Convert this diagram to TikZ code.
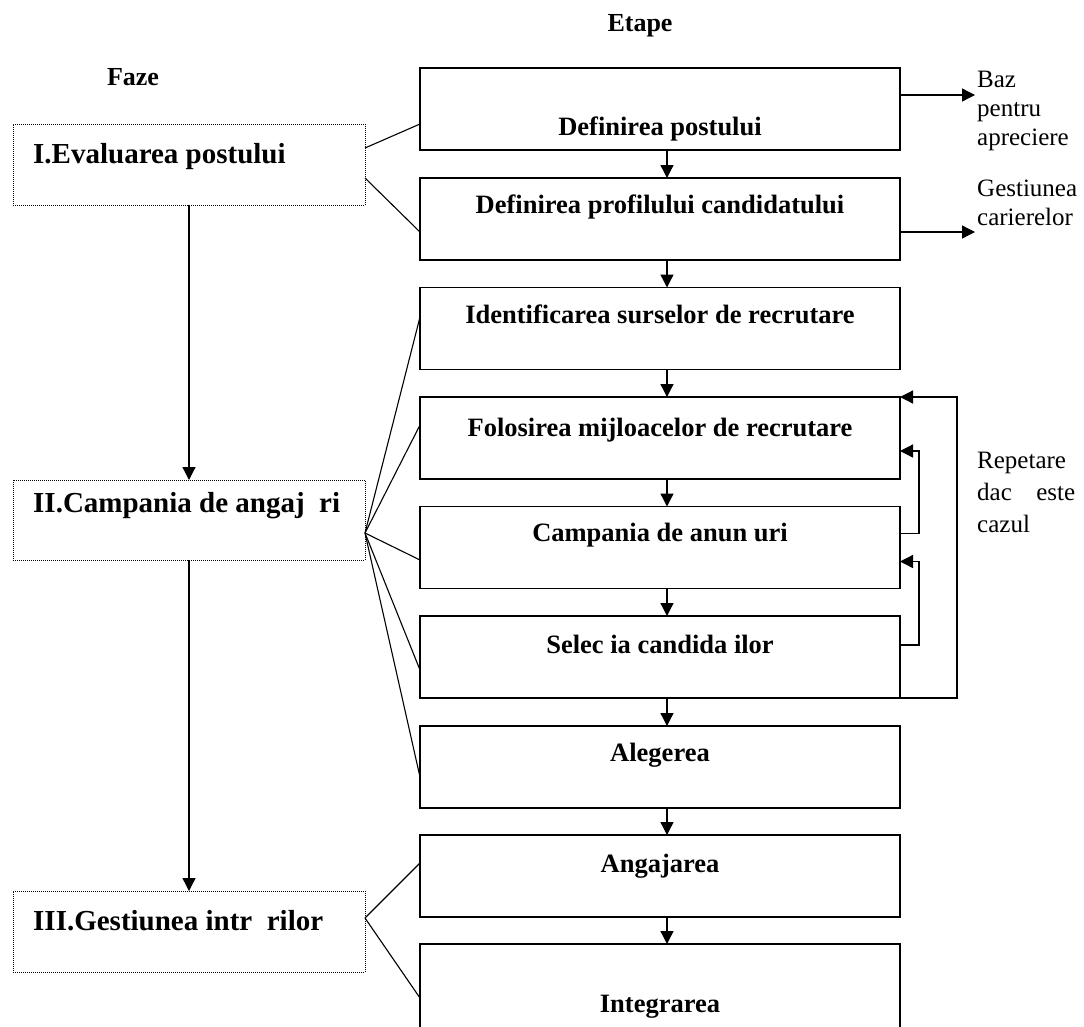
\documentclass[tikz,border=0pt]{standalone}
\usepackage{fontspec}
\setmainfont{Liberation Serif}
\usetikzlibrary{arrows.meta,calc}
\begin{document}
\begin{tikzpicture}[x=1pt,y=-1pt,
 stepbox/.style={draw,line width=1.6pt,minimum width=480pt,minimum height=82pt,inner sep=0pt,outer sep=0pt},
 phasebox/.style={draw,line width=0.9pt,dash pattern=on 1pt off 1pt,minimum width=352pt,minimum height=81pt,inner sep=0pt,outer sep=0pt},
 steptext/.style={font=\fontsize{26.5}{30}\selectfont\bfseries,anchor=base,inner sep=0pt},
 phasetext/.style={font=\fontsize{29}{33}\selectfont\bfseries,anchor=base west,inner sep=0pt},
 headtext/.style={font=\fontsize{26}{30}\selectfont\bfseries,anchor=base,inner sep=0pt},
 note/.style={font=\fontsize{25}{29}\selectfont,anchor=base west,inner sep=0pt},
 link/.style={line width=1.1pt},
 arr/.style={line width=1.3pt,-{Triangle[length=13pt,width=13pt]}},
]
\useasboundingbox (0,0) rectangle (1084,1026);
% headers
\node[headtext] (hE) at (640,31) {Etape};
\node[headtext] (hF) at (133,85) {Faze};
% step boxes
\node[stepbox] (b1) at (660,109) {};
\node[stepbox] (b2) at (660,219) {};
\node[stepbox] (b3) at (660,328.5) {};
\node[stepbox] (b4) at (660,438) {};
\node[stepbox] (b5) at (660,547.5) {};
\node[stepbox] (b6) at (660,657) {};
\node[stepbox] (b7) at (660,767) {};
\node[stepbox] (b8) at (660,876) {};
\node[stepbox,minimum height=84pt] (b9) at (660,986) {};
% step texts
\node[steptext] (t1) at (660,135) {Definirea postului};
\node[steptext] (t2) at (660,213) {Definirea profilului candidatului};
\node[steptext] (t3) at (660,323) {Identificarea surselor de recrutare};
\node[steptext] (t4) at (660,436) {Folosirea mijloacelor de recrutare};
\node[steptext] (t5) at (660,541) {Campania de anun uri};
\node[steptext] (t6) at (660,653) {Selec ia candida ilor};
\node[steptext] (t7) at (660,761) {Alegerea};
\node[steptext] (t8) at (660,872) {Angajarea};
\node[steptext] (t9) at (660,1012) {Integrarea};
% phase boxes
\node[phasebox] (p1) at (189,164.5) {};
\node[phasebox,minimum height=80pt] (p2) at (189,520) {};
\node[phasebox] (p3) at (189,931.5) {};
\node[phasetext] (q1) at (33,163) {I.Evaluarea postului};
\node[phasetext] (q2) at (33,512) {II.Campania de angaj\ \ ri};
\node[phasetext] (q3) at (33,930) {III.Gestiunea intr\ \ rilor};
% notes
\node[note] (n1) at (977,87) {Baz};
\node[note] (n2) at (977,116) {pentru};
\node[note] (n3) at (977,145) {apreciere};
\node[note] (n4) at (977,196) {Gestiunea};
\node[note] (n5) at (977,225) {carierelor};
\node[note] (n6) at (977,468) {Repetare};
\node[note] (n7) at (977,500) {\makebox[98pt][s]{dac este}};
\node[note] (n8) at (977,532) {cazul};
% down arrows between steps
\foreach \a/\b in {b1/b2,b2/b3,b3/b4,b4/b5,b5/b6,b6/b7,b7/b8,b8/b9}
  \draw[arr] ([xshift=7pt]\a.south) -- ([xshift=7pt]\b.north);
% phase arrows
\draw[arr] (p1.south) -- (p2.north);
\draw[arr] (p2.south) -- (p3.north);
% right arrows
\coordinate (a1) at (975,95);
\coordinate (a2) at (975,232);
\draw[arr] (b1.east |- a1) -- (a1);
\draw[arr] (b2.east |- a2) -- (a2);
% feedback loops
\coordinate (r1) at (957,0);
\draw[arr] (b6.south east) -- (b6.south east -| r1) -- (b4.north east -| r1) -- (b4.north east);
\draw[arr] ($(b5.north east)+(0,27)$) -- ($(b5.north east)+(19,27)$) -- ($(b4.north east)+(19,54)$) -- ($(b4.north east)+(0,54)$);
\draw[arr] ($(b6.north east)+(0,29)$) -- ($(b6.north east)+(19,29)$) -- ($(b5.north east)+(19,55)$) -- ($(b5.north east)+(0,55)$);
% phase-to-step links
\draw[link] ($(p1.north east)+(0,24)$) -- ($(b1.north west)+(0,56)$);
\draw[link] ($(p1.north east)+(0,54)$) -- ($(b2.north west)+(0,54)$);
\coordinate (hub) at ($(p2.north east)+(0,53)$);
\draw[link] (hub) -- ($(b3.north west)+(0,29.5)$);
\draw[link] (hub) -- ($(b4.north west)+(0,28)$);
\draw[link] (hub) -- ($(b5.north west)+(0,53.5)$);
\draw[link] (hub) -- ($(b6.north west)+(0,54)$);
\draw[link] (hub) -- ($(b7.north west)+(0,51)$);
\draw[link] ($(p3.north east)+(0,27)$) -- ($(b8.north west)+(0,28)$);
\draw[link] ($(p3.north east)+(0,27)$) -- ($(b9.north west)+(0,54)$);
\end{tikzpicture}
\end{document}
